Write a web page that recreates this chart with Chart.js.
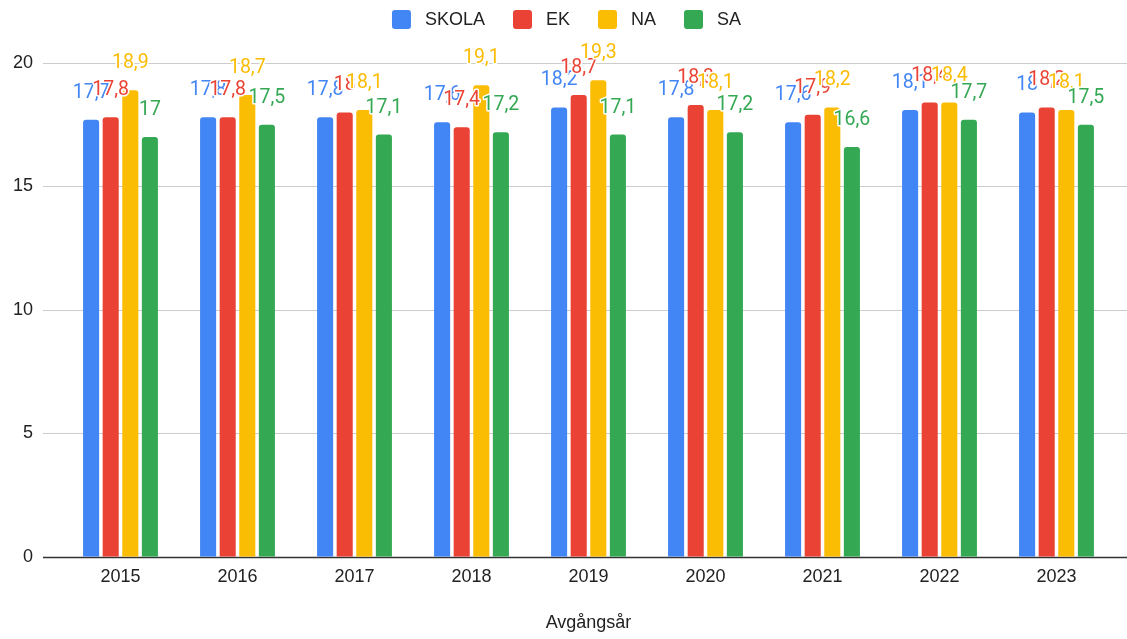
<!DOCTYPE html>
<html>
<head>
<meta charset="utf-8">
<script src="https://cdn.jsdelivr.net/npm/chart.js@4"></script>
<style>
  html, body { margin: 0; padding: 0; background: #fff; }
  #wrap { width: 1127px; height: 639px; }
</style>
</head>
<body>
<div id="wrap"><canvas id="gradeChart"></canvas></div>
<script>
// årtal och snittvärden per program
const years = ['2015', '2016', '2017', '2018', '2019', '2020', '2021', '2022', '2023'];
const seriesNames = ['SKOLA', 'EK', 'NA', 'SA'];
const skola = [17.7, 17.8, 17.8, 17.6, 18.2, 17.8, 17.6, 18.1, 18];
const ek = [17.8, 17.8, 18, 17.4, 18.7, 18.3, 17.9, 18.4, 18.2];
const na = [18.9, 18.7, 18.1, 19.1, 19.3, 18.1, 18.2, 18.4, 18.1];
const sa = [17, 17.5, 17.1, 17.2, 17.1, 17.2, 16.6, 17.7, 17.5];
const yTicks = [0, 5, 10, 15, 20];

const colors = ['#4285F4', '#EA4335', '#FBBC04', '#34A853'];
const axisFont = '"Liberation Sans", Arial, sans-serif';

function fmt(v) {
    return String(v).replace('.', ',');
}

// rutnät över hela bredden + x-axelns linje
const gridPlugin = {
    id: 'wideGrid',
    beforeDatasetsDraw(chart) {
        const ctx = chart.ctx;
        const y = chart.scales.y;
        ctx.save();
        yTicks.forEach(function (t) {
            const py = Math.round(y.getPixelForValue(t)) + 0.5;
            ctx.strokeStyle = t === 0 ? '#333333' : '#cccccc';
            ctx.lineWidth = t === 0 ? 1.5 : 1;
            ctx.beginPath();
            ctx.moveTo(43, py);
            ctx.lineTo(chart.width, py);
            ctx.stroke();
        });
        ctx.restore();
    }
};

// värdeetiketter ovanför staplarna, med vit kant
const labelPlugin = {
    id: 'barLabels',
    afterDatasetsDraw(chart) {
        const ctx = chart.ctx;
        ctx.save();
        ctx.font = '19.5px Roboto, sans-serif';
        ctx.textAlign = 'center';
        ctx.textBaseline = 'alphabetic';
        ctx.lineJoin = 'round';
        chart.data.datasets.forEach(function (ds, i) {
            const meta = chart.getDatasetMeta(i);
            meta.data.forEach(function (bar, j) {
                const txt = fmt(ds.data[j]);
                const ty = bar.y - 22;
                ctx.strokeStyle = '#ffffff';
                ctx.lineWidth = 3;
                ctx.strokeText(txt, bar.x, ty);
                ctx.fillStyle = ds.backgroundColor;
                ctx.fillText(txt, bar.x, ty);
            });
        });
        ctx.restore();
    }
};

// förklaring överst, centrerad
const legendPlugin = {
    id: 'topLegend',
    afterDraw(chart) {
        const ctx = chart.ctx;
        ctx.save();
        ctx.font = '18px ' + axisFont;
        ctx.textBaseline = 'middle';
        const box = 19, gapText = 14, gapItem = 28;
        const widths = chart.data.datasets.map(function (ds) {
            return box + gapText + ctx.measureText(ds.label).width;
        });
        const total = widths.reduce(function (a, b) { return a + b; }, 0) + gapItem * (widths.length - 1);
        let x = (chart.width - total) / 2 + 3;
        const cy = 19.5;
        chart.data.datasets.forEach(function (ds, i) {
            ctx.fillStyle = ds.backgroundColor;
            ctx.beginPath();
            ctx.roundRect(x, cy - box / 2, box, box, 3);
            ctx.fill();
            ctx.fillStyle = '#222222';
            ctx.fillText(ds.label, x + box + gapText, cy + 1);
            x += widths[i] + gapItem;
        });
        ctx.restore();
    }
};

const values = [skola, ek, na, sa];

new Chart(document.getElementById('gradeChart'), {
    type: 'bar',
    data: {
        labels: years,
        datasets: seriesNames.map(function (name, i) {
            return {
                label: name,
                data: values[i],
                backgroundColor: colors[i],
                borderRadius: { topLeft: 3, topRight: 3, bottomLeft: 0, bottomRight: 0 },
                borderSkipped: false,
                categoryPercentage: 0.67,
                barPercentage: 0.82
            };
        })
    },
    options: {
        responsive: true,
        maintainAspectRatio: false,
        animation: false,
        layout: { padding: { top: 63, right: 12, bottom: 1, left: 0 } },
        plugins: {
            legend: { display: false },
            tooltip: { enabled: false }
        },
        scales: {
            x: {
                grid: { display: false, drawTicks: false },
                border: { display: false },
                ticks: {
                    color: '#222222',
                    padding: 9,
                    font: { family: axisFont, size: 18 }
                },
                title: {
                    display: true,
                    text: 'Avgångsår',
                    color: '#222222',
                    padding: { top: 16, bottom: 4 },
                    font: { family: axisFont, size: 18 }
                }
            },
            y: {
                min: 0,
                max: 20,
                afterFit: function (scale) { scale.width = 62; },
                afterBuildTicks: function (scale) {
                    scale.ticks = yTicks.map(function (v) { return { value: v }; });
                },
                grid: { display: false, drawTicks: false },
                border: { display: false },
                ticks: {
                    color: '#222222',
                    padding: 29,
                    font: { family: axisFont, size: 18 }
                }
            }
        }
    },
    plugins: [gridPlugin, labelPlugin, legendPlugin]
});
</script>
</body>
</html>
